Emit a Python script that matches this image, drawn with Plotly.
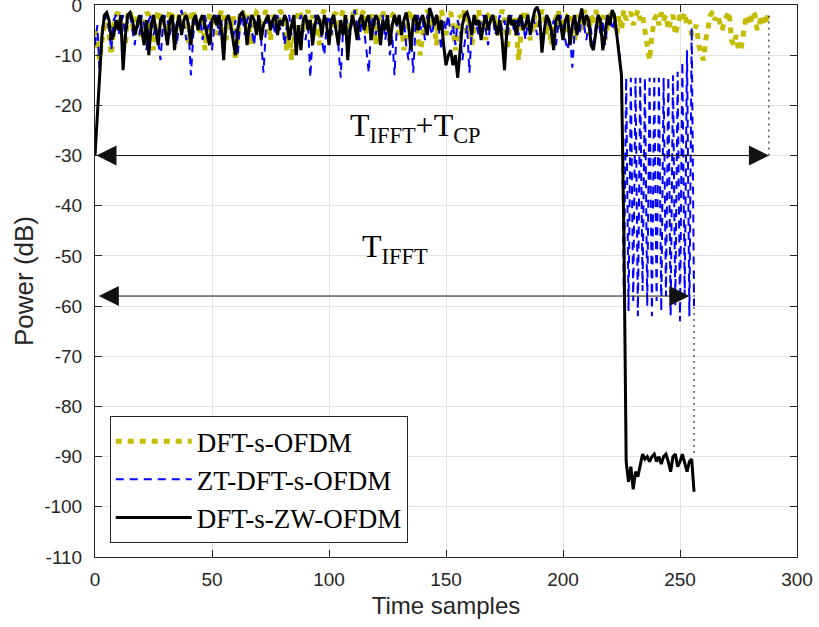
import plotly.graph_objects as go

# ---------------- data ----------------
dft_s_ofdm = [
    -5, -9, -11, -7, -3, -2, -6, -10, -4, -2, -1.5, -5, -3, -8, -2, -1, -4, -6, -2, -3,
    -7, -4, -1.5, -2, -5, -9, -3, -1, -4, -2, -6, -3, -1, -2, -7, -4, -2, -5, -1.5, -3,
    -8, -2, -1, -4, -3, -6, -2, -9, -5, -1.5, -3, -2, -6, -4, -1, -2, -7, -3, -5, -2,
    -11, -6, -2, -1, -4, -2, -5, -8, -3, -1.5, -2, -6, -3, -1, -4, -7, -2, -3, -5, -1,
    -2, -6, -9, -4, -11, -7, -3, -1, -2, -5, -3, -1, -4, -2, -6, -3, -8, -2, -1, -4,
    -3, -6, -2, -1.5, -5, -3, -1, -2, -7, -4, -2, -0.5, -3, -5, -2, -1, -6, -4, -2, -3,
    -8, -4, -2, -1, -5, -3, -7, -2, -1.5, -4, -6, -3, -9, -5, -2, -1, -4, -3, -7, -10,
    -6, -3, -1, -2, -5, -4, -8, -2, -1, -3, -6, -2, -1.5, -4, -9, -5, -2, -3, -1, -6,
    -3, -8, -4, -2, -1, -5, -3, -7, -2, -1.5, -4, -2, -6, -3, -1, -2, -9, -5, -3, -2,
    -4, -11, -6, -2, -1, -3, -7, -4, -2, -5, -3, -1, -2, -6, -3, -8, -4, -2, -1, -5,
    -3, -6, -2, -1.5, -4, -7, -3, -2, -5, -1, -3, -6, -2, -4, -1, -3, -5, -2, -7, -4,
    -2, -1, -3, -6, -2, -5, -1, -3, -2, -1.5,
    -4, -2, -1, -3, -2, -5, -9, -11, -6, -3,
    -2, -4, -1.5, -3, -2, -5, -3, -2, -6, -4,
    -2, -3, -1.5, -4, -3, -6, -5, -4, -8, -10,
    -11, -7, -4, -2, -1.3, -3, -2, -4, -5, -3,
    -2, -1.3, -7, -8, -6, -9, -9, -5, -3, -2,
    -4, -1.3, -2, -5, -3, -2, -4, -3, -1.5,
]

zt_dft_s_ofdm = [
    -8, -4, -14, -6, -3, -2, -5, -9, -3, -2, -6, -4, -2, -7, -3, -2, -5, -8, -3, -6,
    -2, -4, -9, -3, -2, -6, -4, -7, -11, -4, -2, -3, -6, -2, -5, -8, -3, -1, -4, -7,
    -5, -14, -6, -2, -4, -3, -7, -2, -5, -3, -9, -4, -2, -6, -3, -8, -4, -2, -5, -7,
    -3, -10, -4, -2, -6, -3, -2, -5, -8, -3, -4, -7, -13.5, -5, -2, -4, -3, -6, -2, -5,
    -3, -8, -4, -2, -6, -3, -9, -4, -2, -5, -7, -3, -14.5, -6, -2, -4, -3, -7, -10, -4,
    -2, -6, -3, -5, -8, -14.5, -5, -2, -4, -6, -3, -1, -4, -7, -3, -5, -9, -13.5, -4, -2,
    -6, -3, -5, -2, -7, -4, -10, -6, -14, -4, -2, -5, -3, -8, -11, -6, -13.5, -4, -2, -5,
    -3, -7, -2, -4, -6, -3, -2, -5, -9, -3, -5, -2, -6, -4, -8, -3, -5, -11, -7, -4,
    -13.5, -5, -2, -4, -6, -3, -2, -5, -8, -3, -2, -6, -4, -2, -5, -3, -7, -4, -2, -5,
    -3, -6, -2, -4, -7, -3, -5, -2, -4, -6, -3, -7, -5, -2, -4, -6, -3, -8, -4, -2,
    -5, -7, -9, -6, -12.5, -5, -3, -6, -2, -4, -7, -3, -5, -9, -4, -2, -6, -3, -8, -4,
    -2, -5, -3, -6, -9, -14,
    -58, -14.5, -61, -14.5, -59, -14.5, -62, -14.5, -57, -14.5,
    -60, -14.5, -62, -14.5, -59, -14.5, -61, -14.5, -58, -14.3,
    -62, -14, -60, -13.3, -63, -11.3, -58, -9, -62, -4.5, -60,
]

dft_s_zw_ofdm = [
    -30, -22, -14, -6, -2, -1.5, -3, -7, -6, -3, -5, -2, -13, -6, -2, -1.5, -3, -6, -4, -2,
    -5, -8, -3, -10, -4, -2, -5, -8, -3, -2, -5, -8, -3, -2, -9, -4, -2, -6, -3, -2,
    -4, -8, -3, -2, -5, -3, -2, -4, -6, -8, -3, -2, -4, -2, -5, -11, -3, -2, -4, -7,
    -10, -5, -2, -1.5, -3, -8, -4, -2, -3, -6, -2, -7, -4, -3, -2, -5, -3, -2, -6, -3,
    -4, -2, -3, -7, -4, -2, -10, -4, -9, -3, -2, -5, -3, -8, -4, -2, -3, -6, -2, -4,
    -8, -3, -2, -5, -8, -3, -6, -2, -11, -5, -2, -4, -7, -3, -2, -5, -3, -2, -7, -4,
    -2, -3, -8, -3, -5, -2, -8, -4, -2, -4, -2, -6, -3, -1.5, -4, -9, -3, -2, -5, -3,
    -2, -4, -6, -0.6, -2, -4, -2, -5, -3, -8, -12, -10, -9, -12, -10, -14.5, -9, -4, -2, -1.5,
    -3, -6, -2, -4, -3, -7, -4, -2, -5, -3, -2, -4, -6, -3, -7, -13, -5, -2, -4, -3,
    -6, -3, -2, -5, -4, -2, -6, -3, -1, -0.4, -2, -9.5, -5, -2, -3, -5, -9, -3, -2, -4,
    -7, -3, -2, -8, -4, -2, -6, -3, -0.7, -4, -2, -3, -8, -9, -5, -2, -3, -9, -6, -2,
    -4, -1, -2, -6, -10, -14, -45, -91,
    -95, -92, -96.5, -93, -94, -92, -89.5, -90.5, -90, -91,
    -90, -89.5, -91, -90, -91.5, -90, -89.5, -91, -93, -90,
    -89.5, -92, -91, -89.5, -91, -93, -91, -90.5, -97,
]

x_dft = list(range(len(dft_s_ofdm)))
x_zt = list(range(len(zt_dft_s_ofdm)))
x_zw = list(range(len(dft_s_zw_ofdm)))

series_names = ["DFT-s-OFDM", "ZT-DFT-s-OFDM", "DFT-s-ZW-OFDM"]

# annotation geometry (data units)
arrow_cp = dict(x0=0, x1=288, y=-30)
arrow_ifft = dict(x0=1, x1=254, y=-58)
marker_cp = dict(x=288, y0=-30, y1=-1.3)
marker_ifft = dict(x=256, y0=-53, y1=-90)
label_cp = dict(x=137, y=-24.5, text="T<sub>IFFT</sub>+T<sub>CP</sub>")
label_ifft = dict(x=128, y=-48.5, text="T<sub>IFFT</sub>")

x_ticks = [0, 50, 100, 150, 200, 250, 300]
y_ticks = [-110, -100, -90, -80, -70, -60, -50, -40, -30, -20, -10, 0]
y_tick_text = [str(v) for v in y_ticks]

# ---------------- figure ----------------
fig = go.Figure()
fig.add_trace(go.Scatter(x=x_dft, y=dft_s_ofdm, mode="lines", name=series_names[0],
                         line=dict(color="#c4bc00", width=5, dash="6px,6px")))
fig.add_trace(go.Scatter(x=x_zt, y=zt_dft_s_ofdm, mode="lines", name=series_names[1],
                         line=dict(color="#0000ff", width=2, dash="8px,6px")))
fig.add_trace(go.Scatter(x=x_zw, y=dft_s_zw_ofdm, mode="lines", name=series_names[2],
                         line=dict(color="#000000", width=3)))

# dotted marker lines
for m in (marker_cp, marker_ifft):
    fig.add_shape(type="line", xref="x", yref="y", x0=m["x"], x1=m["x"], y0=m["y0"], y1=m["y1"],
                  line=dict(color="black", width=1, dash="2px,4px"))

# double-headed arrows
for a in (arrow_cp, arrow_ifft):
    fig.add_annotation(x=a["x1"], y=a["y"], ax=a["x0"], ay=a["y"], xref="x", yref="y",
                       axref="x", ayref="y", text="", showarrow=True, arrowhead=2,
                       startarrowhead=2, arrowside="end+start", arrowsize=4,
                       startarrowsize=4, arrowwidth=1, arrowcolor="#111111")

for lab in (label_cp, label_ifft):
    fig.add_annotation(x=lab["x"], y=lab["y"], xref="x", yref="y", text=lab["text"],
                       showarrow=False, font=dict(family="Liberation Serif", size=32, color="black"))

axis_common = dict(showline=True, linecolor="#262626", linewidth=1, mirror="ticks",
                   ticks="inside", ticklen=7, tickcolor="#262626", showgrid=True,
                   gridcolor="#e3e3e3", gridwidth=1, zeroline=False, automargin=False,
                   ticklabeloverflow="allow",
                   tickfont=dict(family="Liberation Sans", size=19, color="#262626"))

fig.update_xaxes(range=[0, 300], tickvals=x_ticks, ticktext=[str(v) for v in x_ticks],
                 ticklabelstandoff=5,
                 title=dict(text="Time samples", font=dict(family="Liberation Sans", size=24, color="#262626"),
                            standoff=8), **axis_common)
fig.update_yaxes(range=[-110, 0], tickvals=y_ticks, ticktext=y_tick_text,
                 ticklabelstandoff=8,
                 title=dict(text="Power (dB)", font=dict(family="Liberation Sans", size=26, color="#262626"),
                            standoff=3), **axis_common)

fig.update_layout(
    width=819, height=627,
    margin=dict(l=95, r=22, t=5, b=70),
    plot_bgcolor="white", paper_bgcolor="white",
    legend=dict(x=0.021, y=0.025, xanchor="left", yanchor="bottom",
                bgcolor="white", bordercolor="#262626", borderwidth=1,
                font=dict(family="Liberation Serif", size=27, color="black"),
                itemwidth=76, tracegroupgap=0),
    showlegend=True,
)

fig.write_html("out.html", config={"displayModeBar": False},
               post_script="document.body.style.margin='0';")
